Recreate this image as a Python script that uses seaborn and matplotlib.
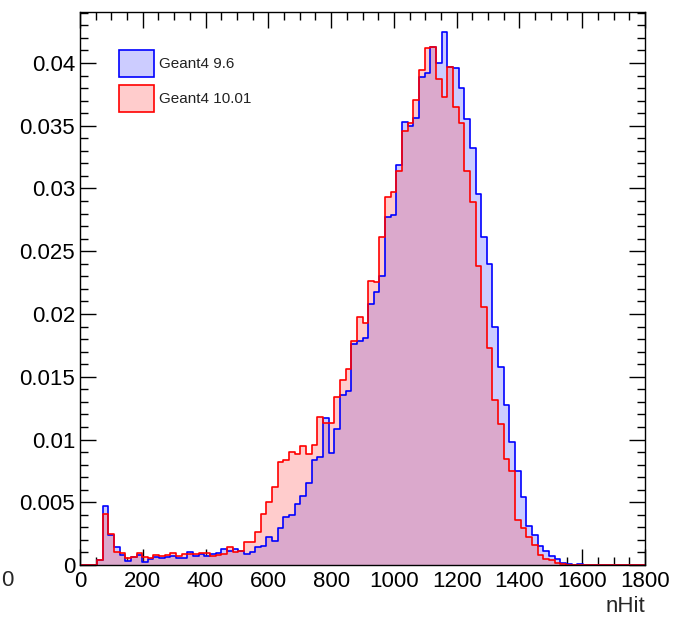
import numpy as np
import pandas as pd
import seaborn as sns
import matplotlib.pyplot as plt
from matplotlib.patches import Patch

# ---------------- data (bin contents, 100 bins of width 18 from 0 to 1800) ----------------
x_min = 0
x_max = 1800
n_bins = 100
series_labels = ["Geant4 9.6", "Geant4 10.01"]

g4_96 = [
    0, 0, 0, 0.00040, 0.00470, 0.00242, 0.00146, 0.00080, 0.00035, 0.00066,
    0.00080, 0.00027, 0.00045, 0.00066, 0.00053, 0.00066, 0.00072, 0.00053, 0.00053, 0.00101,
    0.00072, 0.00085, 0.00072, 0.00085, 0.00093, 0.00125, 0.00114, 0.00127, 0.00112, 0.00088,
    0.00106, 0.00141, 0.00151, 0.00226, 0.00191, 0.00292, 0.00385, 0.00398, 0.00483, 0.00550,
    0.00651, 0.00837, 0.00858, 0.01169, 0.00895, 0.01081, 0.01355, 0.01389, 0.01761, 0.01788,
    0.01806, 0.02080, 0.02178, 0.02305, 0.02775, 0.02790, 0.03185, 0.03527, 0.03500, 0.03564,
    0.03891, 0.03923, 0.04130, 0.04003, 0.04250, 0.03971, 0.03958, 0.03800, 0.03551, 0.03320,
    0.02956, 0.02616, 0.02396, 0.01899, 0.01575, 0.01275, 0.00983, 0.00752, 0.00539, 0.00311,
    0.00239, 0.00154, 0.00112, 0.00070, 0.00045, 0.00019, 0.00005, 0, 0.00008, 0,
    0, 0, 0, 0, 0, 0, 0, 0, 0, 0,
]

g4_1001 = [
    0, 0, 0, 0.00040, 0.00404, 0.00247, 0.00101, 0.00093, 0.00058, 0.00066,
    0.00093, 0.00066, 0.00053, 0.00080, 0.00072, 0.00080, 0.00093, 0.00072, 0.00085, 0.00085,
    0.00085, 0.00093, 0.00093, 0.00074, 0.00080, 0.00085, 0.00146, 0.00106, 0.00112, 0.00181,
    0.00181, 0.00263, 0.00404, 0.00505, 0.00619, 0.00823, 0.00837, 0.00903, 0.00884, 0.00948,
    0.00884, 0.00956, 0.01177, 0.01134, 0.01134, 0.01336, 0.01474, 0.01559, 0.01782, 0.01973,
    0.01926, 0.02266, 0.02255, 0.02611, 0.02930, 0.02975, 0.03139, 0.03461, 0.03525, 0.03705,
    0.03944, 0.04117, 0.04130, 0.03870, 0.03732, 0.03971, 0.03650, 0.03520, 0.03140, 0.02890,
    0.02382, 0.02058, 0.01726, 0.01315, 0.01124, 0.00847, 0.00752, 0.00359, 0.00297, 0.00226,
    0.00159, 0.00080, 0.00050, 0.00037, 0.00019, 0.00008, 0.00003, 0.00002, 0.00002, 0,
    0, 0, 0, 0, 0, 0, 0, 0, 0, 0,
]

x_ticks = [0, 200, 400, 600, 800, 1000, 1200, 1400, 1600, 1800]
x_tick_labels = ["0", "200", "400", "600", "800", "1000", "1200", "1400", "1600", "1800"]
y_ticks = [0, 0.005, 0.01, 0.015, 0.02, 0.025, 0.03, 0.035, 0.04]
y_tick_labels = ["0", "0.005", "0.01", "0.015", "0.02", "0.025", "0.03", "0.035", "0.04"]

# ---------------- build table ----------------
bin_width = (x_max - x_min) / n_bins
centers = x_min + bin_width * (np.arange(n_bins) + 0.5)
df = pd.DataFrame({
    "nHit": np.concatenate([centers, centers]),
    "w": np.array(g4_96 + g4_1001, dtype=float),
    "version": [series_labels[0]] * n_bins + [series_labels[1]] * n_bins,
})

# ---------------- style ----------------
sns.set_style("ticks")
plt.rcParams['font.family'] = ['Liberation Sans', 'DejaVu Sans']

W, H = 675, 617
fig = plt.figure(figsize=(W / 100, H / 100), dpi=100)
ax_l, ax_r, ax_t, ax_b = 80, 645, 12, 565
ax = fig.add_axes([ax_l / W, 1 - ax_b / H, (ax_r - ax_l) / W, (ax_b - ax_t) / H])

blue_fill = '#ccccff'
red_fill = (1.0, 0.35, 0.35)

styles = {
    series_labels[0]: dict(fc=blue_fill, alpha=1.0, ec='#0000ff'),
    series_labels[1]: dict(fc=red_fill, alpha=0.30, ec='#ff0000'),
}

for lab in series_labels:
    sub = df[df["version"] == lab]
    st = styles[lab]
    sns.histplot(data=sub, x="nHit", weights="w", bins=n_bins, binrange=(x_min, x_max),
                 element="step", fill=True, color=st["fc"], alpha=st["alpha"],
                 linewidth=0, ax=ax)
    sns.histplot(data=sub, x="nHit", weights="w", bins=n_bins, binrange=(x_min, x_max),
                 element="step", fill=False, color=st["ec"], linewidth=1.2, ax=ax)

ax.set_xlim(x_min, x_max)
ax.set_ylim(0, (ax_b - ax_t) / 12550.0)

ax.set_xticks(x_ticks)
ax.set_xticklabels(x_tick_labels)
ax.set_yticks(y_ticks)
ax.set_yticklabels(y_tick_labels)
ax.set_xticks(np.arange(0, 1801, 50), minor=True)
ax.set_yticks(np.arange(0, 0.0441, 0.001), minor=True)

ax.tick_params(which='both', direction='in', top=True, right=True, width=1, colors='black',
               labelsize=16)
ax.tick_params(which='major', length=11.5)
ax.tick_params(which='minor', length=5.8)
ax.tick_params(axis='y', pad=3.5)
ax.tick_params(axis='x', pad=4)
for s in ax.spines.values():
    s.set_linewidth(1)
    s.set_color('black')

ax.set_ylabel("")
ax.set_xlabel("nHit", loc="right", fontsize=16, labelpad=3)

handles = [
    Patch(facecolor=blue_fill, edgecolor='#0000ff', linewidth=1.2),
    Patch(facecolor=(1.0, 0.35, 0.35, 0.30), edgecolor='#ff0000', linewidth=1.2),
]
fig.legend(handles, series_labels, loc='upper left',
           bbox_to_anchor=(119 / W, 1 - 50 / H), frameon=False, fontsize=11,
           labelcolor='#222222',
           handlelength=2.3, handleheight=2.3, labelspacing=0.55,
           handletextpad=0.35, borderpad=0, borderaxespad=0)

fig.text(1 / W, 1 - 580 / H, "0", fontsize=16, ha='left', va='center')

fig.savefig("out.png", dpi=100)
